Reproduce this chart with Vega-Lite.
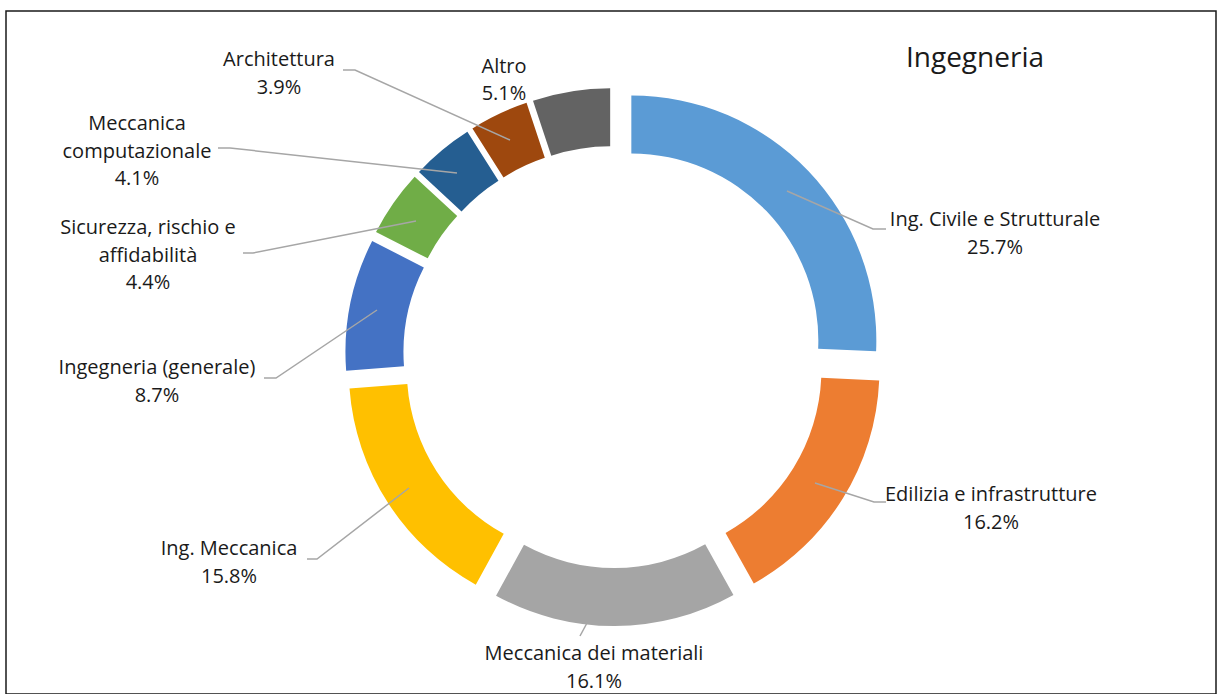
{
  "$schema": "https://vega.github.io/schema/vega-lite/v6.json",
  "width": 1210,
  "height": 683,
  "autosize": {"type": "none"},
  "padding": {"left": 6, "top": 11, "right": 1, "bottom": 0},
  "background": "white",
  "view": {"stroke": "#1a1a1a", "strokeWidth": 1.5},
  "datasets": {
    "slices": [
      {"idx": 1, "category": "Ing. Civile e Strutturale", "pct": 25.7},
      {"idx": 2, "category": "Edilizia e infrastrutture", "pct": 16.2},
      {"idx": 3, "category": "Meccanica dei materiali", "pct": 16.1},
      {"idx": 4, "category": "Ing. Meccanica", "pct": 15.8},
      {"idx": 5, "category": "Ingegneria (generale)", "pct": 8.7},
      {"idx": 6, "category": "Sicurezza, rischio e affidabilità", "pct": 4.4},
      {"idx": 7, "category": "Meccanica computazionale", "pct": 4.1},
      {"idx": 8, "category": "Architettura", "pct": 3.9},
      {"idx": 9, "category": "Altro", "pct": 5.1}
    ],
    "labels": [
      {"label": "Ing. Civile e Strutturale\n25.7%", "x": 381, "y": 137},
      {"label": "Edilizia e infrastrutture\n16.2%", "x": 377, "y": -138},
      {"label": "Meccanica dei materiali\n16.1%", "x": -20, "y": -297},
      {"label": "Ing. Meccanica\n15.8%", "x": -385, "y": -192},
      {"label": "Ingegneria (generale)\n8.7%", "x": -457, "y": -11},
      {"label": "Sicurezza, rischio e\naffidabilità\n4.4%", "x": -466, "y": 129},
      {"label": "Meccanica\ncomputazionale\n4.1%", "x": -477, "y": 233},
      {"label": "Architettura\n3.9%", "x": -335, "y": 297},
      {"label": "Altro\n5.1%", "x": -110, "y": 290.5}
    ],
    "leaders": [
      {"id": "Architettura", "k": 1, "x": -271, "y": 287},
      {"id": "Architettura", "k": 2, "x": -259, "y": 287},
      {"id": "Architettura", "k": 3, "x": -104, "y": 217},
      {"id": "Meccanica computazionale", "k": 1, "x": -396, "y": 209},
      {"id": "Meccanica computazionale", "k": 2, "x": -384, "y": 209},
      {"id": "Meccanica computazionale", "k": 3, "x": -157, "y": 184},
      {"id": "Sicurezza", "k": 1, "x": -371, "y": 104},
      {"id": "Sicurezza", "k": 2, "x": -361, "y": 104},
      {"id": "Sicurezza", "k": 3, "x": -198, "y": 136},
      {"id": "Ingegneria (generale)", "k": 1, "x": -350, "y": -21},
      {"id": "Ingegneria (generale)", "k": 2, "x": -338, "y": -21},
      {"id": "Ingegneria (generale)", "k": 3, "x": -237, "y": 47},
      {"id": "Ing. Meccanica", "k": 1, "x": -307, "y": -202},
      {"id": "Ing. Meccanica", "k": 2, "x": -297, "y": -202},
      {"id": "Ing. Meccanica", "k": 3, "x": -205, "y": -131},
      {"id": "Ing. Civile", "k": 1, "x": 173, "y": 166},
      {"id": "Ing. Civile", "k": 2, "x": 259, "y": 128},
      {"id": "Ing. Civile", "k": 3, "x": 272, "y": 128},
      {"id": "Edilizia", "k": 1, "x": 201, "y": -126},
      {"id": "Edilizia", "k": 2, "x": 260, "y": -145},
      {"id": "Edilizia", "k": 3, "x": 272, "y": -145},
      {"id": "Meccanica dei materiali", "k": 1, "x": -27, "y": -266},
      {"id": "Meccanica dei materiali", "k": 2, "x": -34, "y": -279}
    ],
    "title": [
      {"t": "Ingegneria", "x": 361, "y": 298}
    ]
  },
  "layer": [
    {
      "data": {"name": "slices"},
      "mark": {
        "type": "arc",
        "innerRadius": 187,
        "outerRadius": 245,
        "x": {"expr": "scale('x', 0) + 24 * sin(PI * (datum.pct_start + datum.pct_end) / 100)"},
        "y": {"expr": "scale('y', 0) - 24 * cos(PI * (datum.pct_start + datum.pct_end) / 100)"}
      },
      "encoding": {
        "theta": {"field": "pct", "type": "quantitative", "stack": true, "scale": {"domain": [0, 100]}},
        "order": {"field": "idx", "type": "quantitative"},
        "color": {
          "field": "category",
          "type": "nominal",
          "legend": null,
          "scale": {
            "domain": ["Ing. Civile e Strutturale", "Edilizia e infrastrutture", "Meccanica dei materiali", "Ing. Meccanica", "Ingegneria (generale)", "Sicurezza, rischio e affidabilità", "Meccanica computazionale", "Architettura", "Altro"],
            "range": ["#5B9BD5", "#ED7D31", "#A5A5A5", "#FFC000", "#4472C4", "#70AD47", "#255E91", "#9E480E", "#636363"]
          }
        }
      }
    },
    {
      "data": {"name": "leaders"},
      "mark": {"type": "line", "color": "#A6A6A6", "strokeWidth": 1.5},
      "encoding": {
        "x": {"field": "x", "type": "quantitative", "axis": null, "scale": {"domain": [-608, 602], "nice": false, "zero": false}},
        "y": {"field": "y", "type": "quantitative", "axis": null, "scale": {"domain": [-337, 346], "nice": false, "zero": false}},
        "detail": {"field": "id", "type": "nominal"},
        "order": {"field": "k", "type": "quantitative"}
      }
    },
    {
      "data": {"name": "labels"},
      "mark": {"type": "text", "font": "Open Sans", "fontSize": 20, "color": "#1a1a1a", "align": "center", "baseline": "middle", "lineBreak": "\n", "lineHeight": 27.5},
      "encoding": {
        "x": {"field": "x", "type": "quantitative"},
        "y": {"field": "y", "type": "quantitative"},
        "text": {"field": "label", "type": "nominal"}
      }
    },
    {
      "data": {"name": "title"},
      "mark": {"type": "text", "font": "Open Sans", "fontSize": 28, "color": "#1a1a1a", "align": "center", "baseline": "middle"},
      "encoding": {
        "x": {"field": "x", "type": "quantitative"},
        "y": {"field": "y", "type": "quantitative"},
        "text": {"field": "t", "type": "nominal"}
      }
    }
  ]
}
